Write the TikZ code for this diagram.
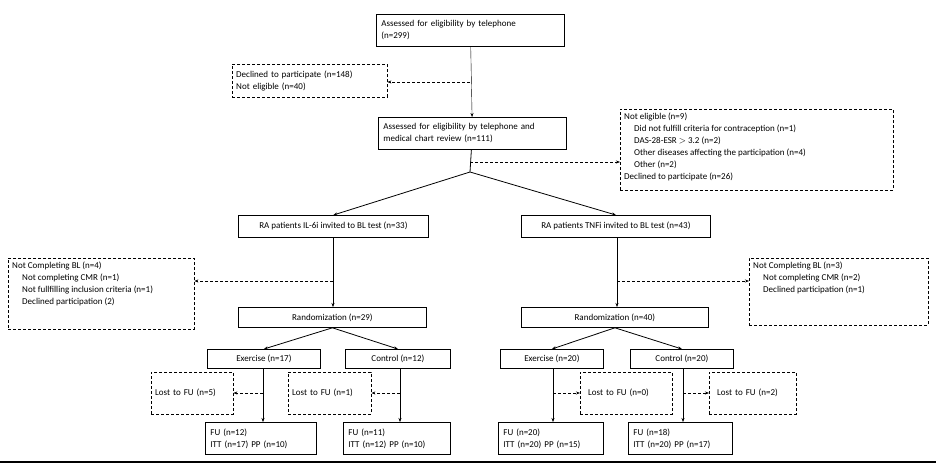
\documentclass[tikz,border=0pt]{standalone}
\usepackage{fontspec}
\setmainfont{Carlito}
\usetikzlibrary{arrows.meta}
\newcommand{\topbox}[3]{\parbox[t][#2][t]{#1}{#3}}
\begin{document}
\begin{tikzpicture}[x=1pt,y=-1pt,font=\fontsize{9}{12}\selectfont,
  box/.style={draw,thick,inner sep=3pt,anchor=north west},
  lbox/.style={box,align=left,inner xsep=5pt},
  dbox/.style={draw,densely dashed,inner sep=4pt,anchor=north west,align=left},
  arr/.style={-{Stealth[length=4pt]}},
  darr/.style={densely dashed,thick,-{Stealth[length=4pt]}}]
\useasboundingbox (0,0) rectangle (936,466);
% top part
\node[lbox,text width=178pt,minimum height=32pt] (tel) at (376,14) {Assessed for eligibility by telephone\\(n=299)};
\node[dbox,text width=147pt,minimum height=33pt] (dec) at (232,64) {Declined to participate (n=148)\\Not eligible (n=40)};
\node[lbox,text width=178pt,minimum height=32pt] (chart) at (378,117) {Assessed for eligibility by telephone and\\medical chart review (n=111)};
\node[dbox] (notel) at (620,109) {\topbox{265pt}{73pt}{Not eligible (n=9)\\
  \hspace*{10pt}Did not fulfill criteria for contraception (n=1)\\
  \hspace*{10pt}DAS-28-ESR $>$ 3.2 (n=2)\\
  \hspace*{10pt}Other diseases affecting the participation (n=4)\\
  \hspace*{10pt}Other (n=2)\\Declined to participate (n=26)}};
\coordinate (c1) at (470,82);
\coordinate (c2) at (470,162);
\coordinate (split) at (470,172);
\draw[arr] (tel) -- (chart);
\draw[darr] (c1) -- (dec.east |- c1);
\draw[thick] (chart) -- (split);
\draw[darr] (c2) -- (notel.west |- c2);
% arms
\node[box,minimum width=190pt,minimum height=22pt] (il6) at (238,215) {RA patients IL-6i invited to BL test (n=33)};
\node[box,minimum width=189pt,minimum height=22pt] (tnf) at (521,215) {RA patients TNFi invited to BL test (n=43)};
\draw[thick,arr] (split) -- (il6.north);
\draw[thick,arr] (split) -- (tnf.north);
\node[dbox] (ncl) at (8,258) {\topbox{178pt}{63pt}{Not Completing BL (n=4)\\
  \hspace*{10pt}Not completing CMR (n=1)\\
  \hspace*{10pt}Not fullfilling inclusion criteria (n=1)\\
  \hspace*{10pt}Declined participation (2)}};
\node[dbox] (ncr) at (749,258) {\topbox{171pt}{59pt}{Not Completing BL (n=3)\\
  \hspace*{10pt}Not completing CMR (n=2)\\
  \hspace*{10pt}Declined participation (n=1)}};
\node[box,minimum width=188pt,minimum height=20pt] (randl) at (238,307) {Randomization (n=29)};
\node[box,minimum width=187pt,minimum height=20pt] (randr) at (521,307) {Randomization (n=40)};
\coordinate (bl) at (333,281);
\coordinate (br) at (617,281);
\draw[arr] (il6.south -| bl) -- (randl.north -| bl);
\draw[arr] (tnf.south -| br) -- (randr.north -| br);
\draw[darr] (bl) -- (ncl.east |- bl);
\draw[darr] (br) -- (ncr.west |- br);
% groups
\node[box,minimum width=113pt,minimum height=19pt] (exl) at (207,349) {Exercise (n=17)};
\node[box,minimum width=105pt,minimum height=19pt] (col) at (345,349) {Control (n=12)};
\node[box,minimum width=103pt,minimum height=19pt] (exr) at (500,349) {Exercise (n=20)};
\node[box,minimum width=103pt,minimum height=19pt] (cor) at (630,349) {Control (n=20)};
\draw[thick,arr] (randl.south) -- (exl.north);
\draw[thick,arr] (randl.south) -- (col.north);
\draw[thick,arr] (randr.south) -- (exr.north);
\draw[thick,arr] (randr.south) -- (cor.north);
% lost to follow-up
\node[dbox,text width=74pt,minimum height=42pt] (lost1) at (151,372) {Lost to FU (n=5)};
\node[dbox,text width=75pt,minimum height=42pt] (lost2) at (288,372) {Lost to FU (n=1)};
\node[dbox,text width=84pt,minimum height=42pt] (lost3) at (580,372) {\hspace*{4pt}Lost to FU (n=0)};
\node[dbox,text width=79pt,minimum height=42pt] (lost4) at (709,372) {\hspace*{4pt}Lost to FU (n=2)};
\node[lbox,text width=101pt,minimum height=32pt] (fu1) at (205,422) {FU (n=12)\\ITT (n=17) PP (n=10)};
\node[lbox,text width=97pt,minimum height=32pt] (fu2) at (343,422) {FU (n=11)\\ITT (n=12) PP (n=10)};
\node[lbox,text width=95pt,minimum height=32pt] (fu3) at (498,422) {FU (n=20)\\ITT (n=20) PP (n=15)};
\node[lbox,text width=94pt,minimum height=32pt] (fu4) at (628,422) {FU (n=18)\\ITT (n=20) PP (n=17)};
\coordinate (v1) at (263,393);
\coordinate (v2) at (400,393);
\coordinate (v3) at (553,393);
\coordinate (v4) at (683,393);
\draw[arr] (exl.south -| v1) -- (fu1.north -| v1);
\draw[arr] (col.south -| v2) -- (fu2.north -| v2);
\draw[arr] (exr.south -| v3) -- (fu3.north -| v3);
\draw[arr] (cor.south -| v4) -- (fu4.north -| v4);
\draw[darr] (v1) -- (lost1.east |- v1);
\draw[darr] (v2) -- (lost2.east |- v2);
\draw[darr] (v3) -- (lost3.west |- v3);
\draw[darr] (v4) -- (lost4.west |- v4);
\draw[line width=2pt] (0,462) -- (936,462);
\end{tikzpicture}
\end{document}
